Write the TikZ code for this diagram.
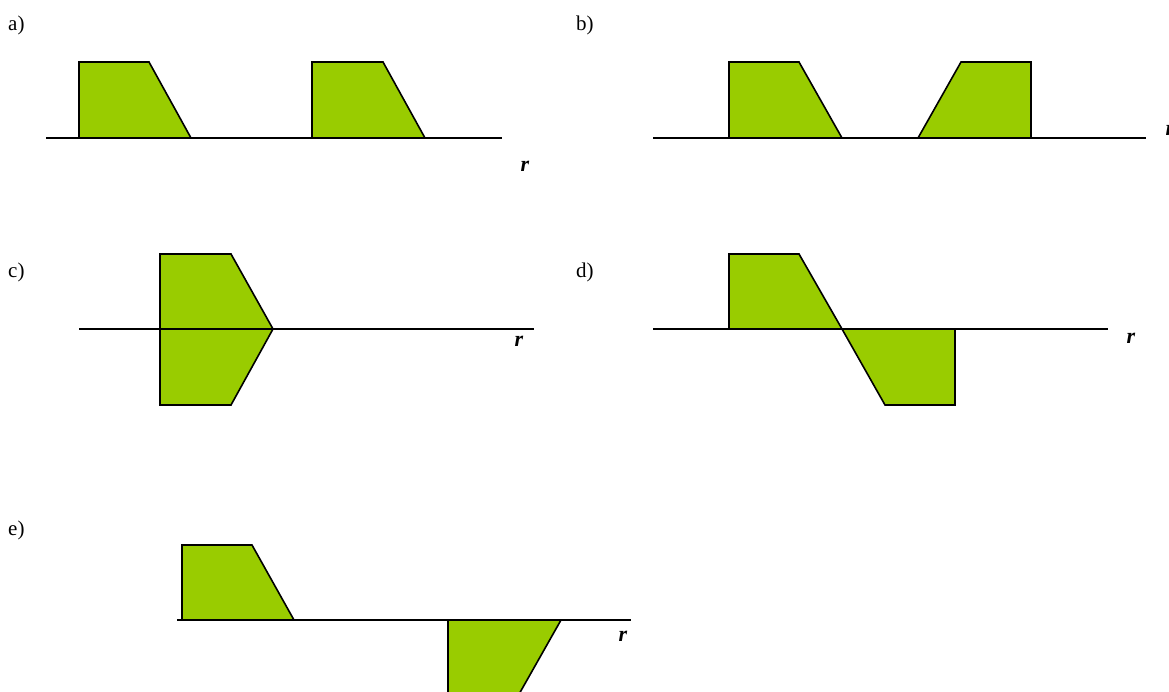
\documentclass[tikz,border=0pt]{standalone}
\usepackage{fontspec}
\setmainfont{Liberation Serif}
\usepackage{xcolor}
\usepackage{tikz}
\definecolor{pulsegreen}{RGB}{153, 204, 0}

\begin{document}
\begin{tikzpicture}[
          x=1pt, y=-1pt,
          pulse/.style={fill=pulsegreen, draw=black, line width=1.6pt, line join=miter},
          axis/.style={draw=black, line width=1.6pt},
          panel/.style={anchor=base west, inner sep=0pt, font=\fontsize{21}{24}\selectfont},
          rlabel/.style={anchor=base, inner sep=0pt, font=\fontsize{22}{24}\selectfont\bfseries\itshape}
        ]
          \useasboundingbox (0,0) rectangle (1169,692);
          \clip (0,0) rectangle (1169,692);

          % a)
          \node[panel] (labA) at (8,31) {a)};
          \draw[pulse] (79,138) -- (79,62) -- (149,62) -- (191,138) -- cycle;
          \draw[pulse] (312,138) -- (312,62) -- (383,62) -- (425,138) -- cycle;
          \draw[axis] (46,138) -- (502,138);
          \node[rlabel] (rA) at (525,172) {r};

          % b)
          \node[panel] (labB) at (576,31) {b)};
          \draw[pulse] (729,138) -- (729,62) -- (799,62) -- (842,138) -- cycle;
          \draw[pulse] (918,138) -- (961,62) -- (1031,62) -- (1031,138) -- cycle;
          \draw[axis] (653,138) -- (1146,138);
          \node[rlabel] (rB) at (1170,136) {r};

          % c)
          \node[panel] (labC) at (8,278) {c)};
          \draw[pulse] (160,329) -- (160,254) -- (231,254) -- (273,329) -- (231,405) -- (160,405) -- cycle;
          \draw[axis] (79,329) -- (534,329);
          \node[rlabel] (rC) at (519,346) {r};

          % d)
          \node[panel] (labD) at (576,278) {d)};
          \draw[pulse] (729,329) -- (729,254) -- (799,254) -- (842,329) -- cycle;
          \draw[pulse] (842,329) -- (885,405) -- (955,405) -- (955,329) -- cycle;
          \draw[axis] (653,329) -- (1108,329);
          \node[rlabel] (rD) at (1131,343) {r};

          % e)
          \node[panel] (labE) at (8,535) {e)};
          \draw[pulse] (182,620) -- (182,545) -- (252,545) -- (294,620) -- cycle;
          \draw[pulse] (448,620) -- (448,696) -- (518,696) -- (561,620) -- cycle;
          \draw[axis] (177,620) -- (631,620);
          \node[rlabel] (rE) at (623,641) {r};
        \end{tikzpicture}
\end{document}
